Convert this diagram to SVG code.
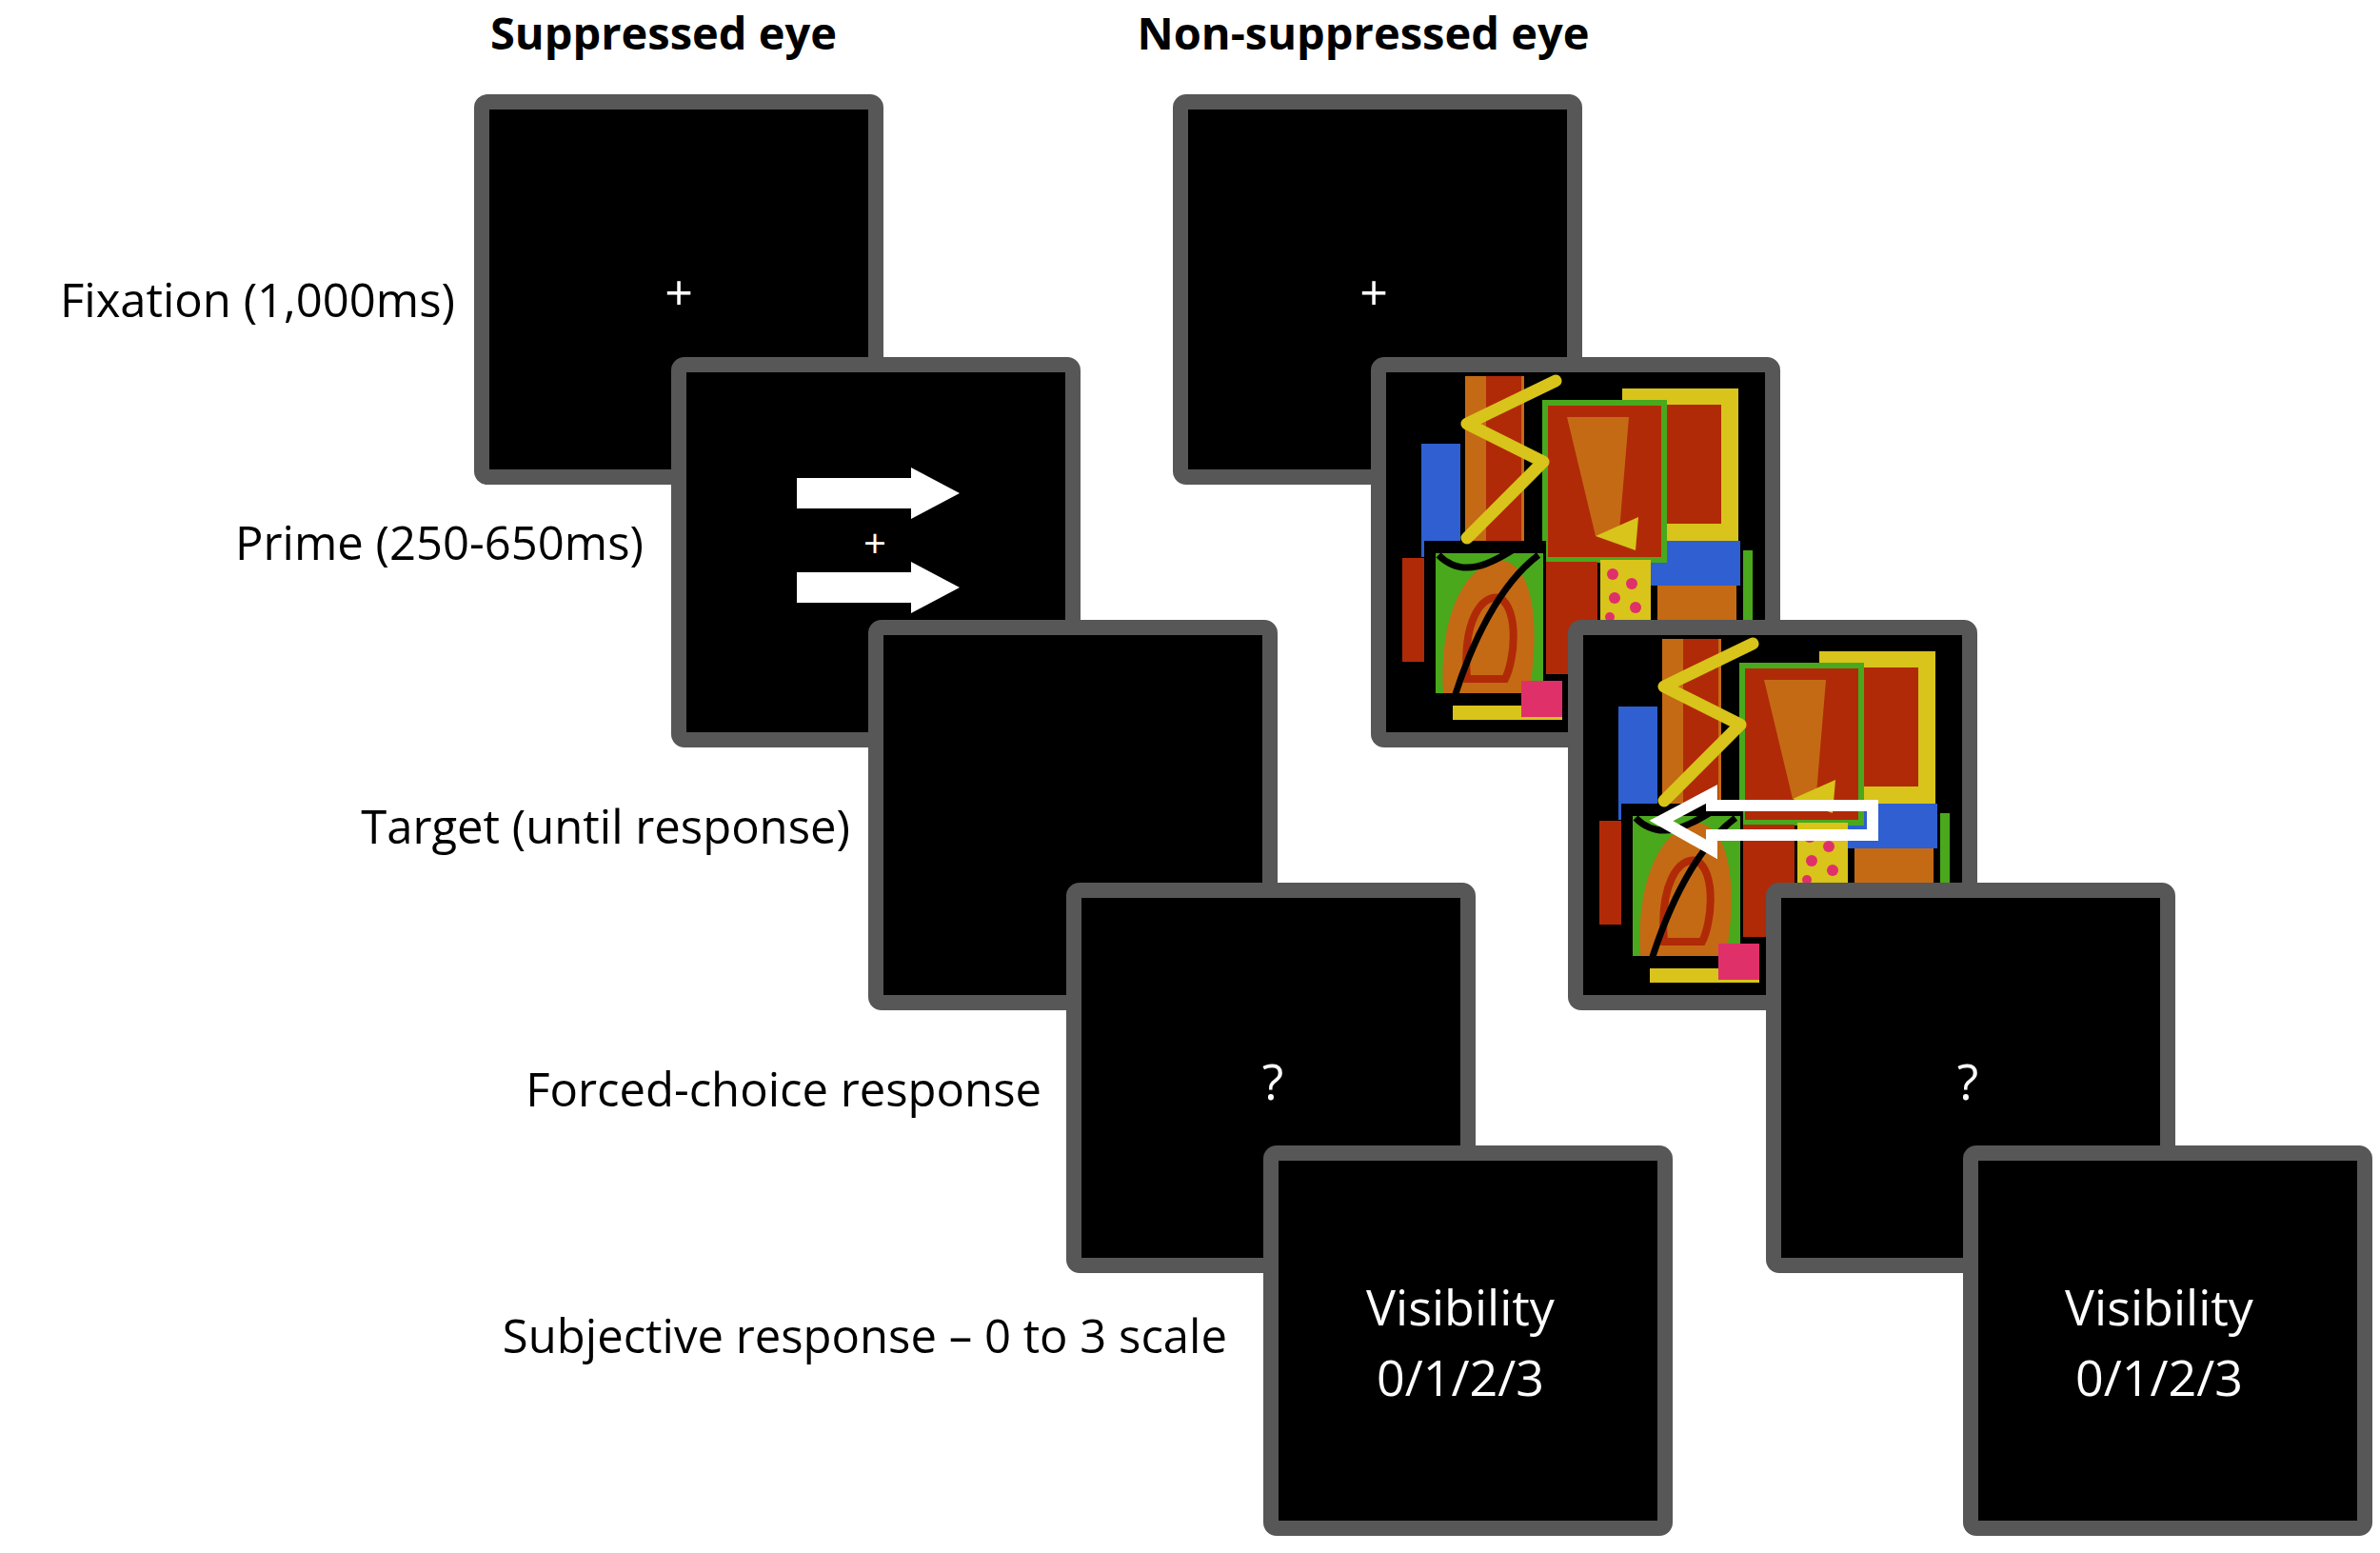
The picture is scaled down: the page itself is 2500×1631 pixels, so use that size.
<svg xmlns="http://www.w3.org/2000/svg" xmlns:xlink="http://www.w3.org/1999/xlink" width="2500" height="1631" viewBox="0 0 2500 1631">
<style>
.scr{fill:#000;stroke:#575757;stroke-width:16}
.lbl{font-family:"Open Sans","Liberation Sans",sans-serif;font-size:49px;fill:#000;text-anchor:end}
.ttl{font-family:"Open Sans","Liberation Sans",sans-serif;font-size:47px;font-weight:bold;fill:#000;text-anchor:middle}
.in{font-family:"Open Sans","Liberation Sans",sans-serif;font-size:52px;fill:#fff;text-anchor:middle}
</style>
<defs>
<clipPath id="cp"><rect x="0" y="0" width="398" height="376"/></clipPath>
<g id="mond" clip-path="url(#cp)">
<rect x="0" y="0" width="398" height="376" fill="#000"/>
<rect x="37" y="73" width="41" height="119" fill="#2f5fd0"/>
<rect x="83" y="2" width="62" height="175" fill="#c46a14"/>
<rect x="105" y="2" width="37" height="175" fill="#b02a08"/>
<rect x="248" y="15" width="122" height="160" fill="#d8c41a"/>
<rect x="295" y="32" width="57" height="125" fill="#b02a08"/>
<rect x="278" y="175" width="94" height="47" fill="#2f5fd0"/>
<rect x="285" y="222" width="83" height="100" fill="#c46a14"/>
<rect x="375" y="185" width="10" height="75" fill="#4aa81c"/>
<rect x="167" y="30" width="125" height="165" fill="#b02a08" stroke="#4aa81c" stroke-width="6"/>
<polygon points="190,45 255,45 245,165 220,170" fill="#c46a14"/>
<polygon points="220,170 265,150 262,185" fill="#d8c41a"/>
<rect x="17" y="193" width="23" height="109" fill="#b02a08"/>
<rect x="168" y="197" width="54" height="118" fill="#b02a08"/>
<rect x="225" y="195" width="53" height="70" fill="#d8c41a"/>
<g fill="#e0306a"><circle cx="238" cy="210" r="6"/><circle cx="258" cy="220" r="6"/><circle cx="240" cy="235" r="6"/><circle cx="262" cy="245" r="6"/><circle cx="235" cy="255" r="5"/></g>
<rect x="40" y="175" width="128" height="173" fill="#000"/>
<rect x="52" y="188" width="113" height="147" fill="#4aa81c"/>
<path d="M60,335 C55,260 80,200 120,195 C160,200 160,280 150,335 Z" fill="#c46a14"/>
<path d="M85,320 C80,260 100,230 120,235 C140,250 135,300 125,320 Z" fill="none" stroke="#b02a08" stroke-width="8"/>
<path d="M70,345 C90,280 120,220 160,190" fill="none" stroke="#000" stroke-width="7"/>
<path d="M55,190 C80,215 110,200 140,180" fill="none" stroke="#000" stroke-width="7"/>
<rect x="70" y="348" width="115" height="15" fill="#d8c41a"/>
<rect x="142" y="322" width="43" height="38" fill="#e0306a"/>
<polyline points="178,7 85,52 165,92 85,172" fill="none" stroke="#d8c41a" stroke-width="13" stroke-linejoin="round" stroke-linecap="round"/>
</g>
</defs>
<text class="ttl" x="697" y="52">Suppressed eye</text>
<text class="ttl" x="1432" y="52">Non-suppressed eye</text>
<text class="lbl" x="478" y="333">Fixation (1,000ms)</text>
<text class="lbl" x="676" y="588">Prime (250-650ms)</text>
<text class="lbl" x="893" y="886">Target (until response)</text>
<text class="lbl" x="1094" y="1162">Forced-choice response</text>
<text class="lbl" x="1289" y="1421">Subjective response – 0 to 3 scale</text>
<g id="s1"><rect class="scr" x="506" y="107" width="414" height="394" rx="6"/><text class="in" x="713" y="326">+</text></g>
<g id="s2"><rect class="scr" x="713" y="383" width="414" height="394" rx="6"/>
<polygon points="837,502 957,502 957,491 1008,518 957,545 957,534 837,534" fill="#fff"/>
<polygon points="837,601 957,601 957,590 1008,617 957,644 957,633 837,633" fill="#fff"/>
<text class="in" x="919" y="586" style="font-size:42px">+</text></g>
<g id="s3"><rect class="scr" x="920" y="659" width="414" height="394" rx="6"/></g>
<g id="s4"><rect class="scr" x="1128" y="935" width="414" height="394" rx="6"/><text class="in" x="1337" y="1155">?</text></g>
<g id="s5"><rect class="scr" x="1335" y="1211" width="414" height="394" rx="6"/><text class="in" x="1534" y="1392">Visibility</text><text class="in" x="1534" y="1466">0/1/2/3</text></g>
<g id="r1"><rect class="scr" x="1240" y="107" width="414" height="394" rx="6"/><text class="in" x="1443" y="326">+</text></g>
<g id="r2"><rect class="scr" x="1448" y="383" width="414" height="394" rx="6"/><use xlink:href="#mond" x="1456" y="393"/></g>
<g id="r3"><rect class="scr" x="1655" y="659" width="414" height="394" rx="6"/><use xlink:href="#mond" x="1663" y="669"/>
<polygon points="1745,862 1798,834 1798,846 1967,846 1967,877 1798,877 1798,892" fill="none" stroke="#fff" stroke-width="12" stroke-linejoin="miter"/></g>
<g id="r4"><rect class="scr" x="1863" y="935" width="414" height="394" rx="6"/><text class="in" x="2067" y="1155">?</text></g>
<g id="r5"><rect class="scr" x="2070" y="1211" width="414" height="394" rx="6"/><text class="in" x="2268" y="1392">Visibility</text><text class="in" x="2268" y="1466">0/1/2/3</text></g>
<g id="connectors"/>
</svg>
